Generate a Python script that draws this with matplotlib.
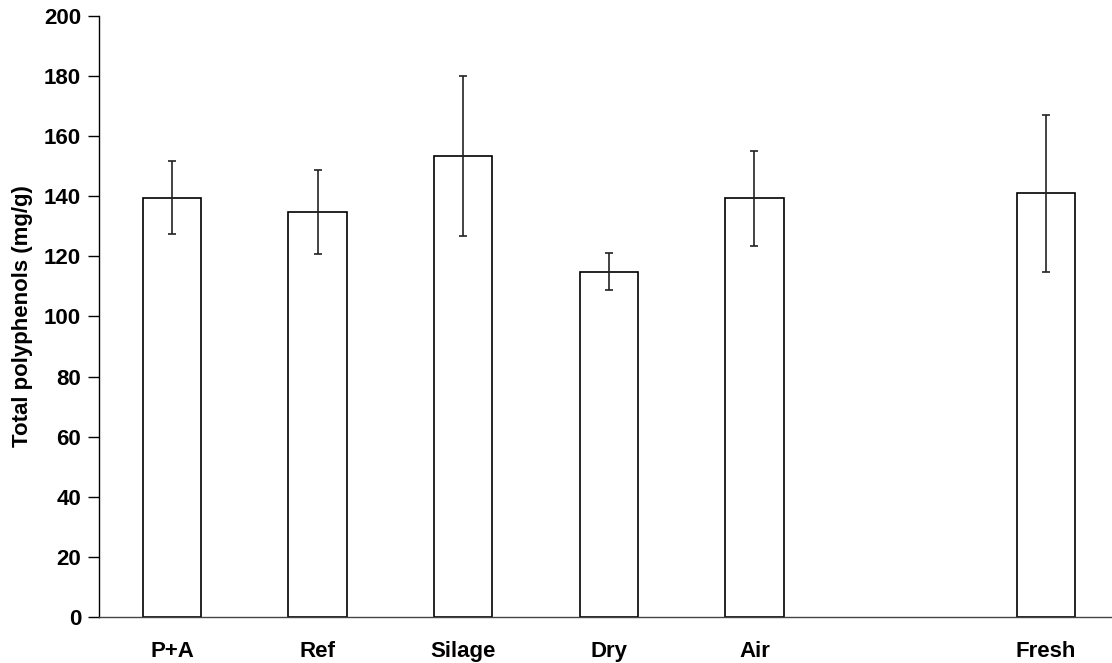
import matplotlib
matplotlib.use("Agg")
import matplotlib.pyplot as plt

plt.rcParams['font.family'] = ['Liberation Sans', 'DejaVu Sans']
plt.rcParams['font.weight'] = 'bold'

# data
positions = [0, 1, 2, 3, 4, 6]   # slot 5 is left empty
labels = ['P+A', 'Ref', 'Silage', 'Dry', 'Air', 'Fresh']
means = [139.5, 134.7, 153.4, 114.9, 139.3, 141.0]
errors = [12.2, 14.0, 26.6, 6.1, 15.9, 26.1]

fig = plt.figure(figsize=(11.12, 6.63), dpi=100)
ax = fig.add_axes([0.0892, 0.0694, 0.9166, 0.9065])

ax.bar(positions, means, width=0.4, color='white', edgecolor='black',
       linewidth=1.2, zorder=2)
ax.errorbar(positions, means, yerr=errors, fmt='none', ecolor='#222222',
            elinewidth=1.2, capsize=3.2, capthick=1.2, zorder=3)

ax.set_xlim(-0.5, 6.5)
ax.set_ylim(0, 200)
ax.set_yticks(range(0, 201, 20))
ax.set_xticks(positions)
ax.set_xticklabels(labels, fontsize=16, fontweight='bold')
ax.tick_params(axis='x', length=0, pad=17)
ax.tick_params(axis='y', direction='out', length=8, width=1, labelsize=16, pad=5)
for t in ax.get_yticklabels():
    t.set_fontweight('bold')

ax.spines['top'].set_visible(False)
ax.spines['right'].set_visible(False)
ax.spines['left'].set_linewidth(1)
ax.spines['bottom'].set_linewidth(1)
ax.spines['bottom'].set_color('#444444')

ax.set_ylabel('Total polyphenols (mg/g)', fontsize=16, fontweight='bold', labelpad=8)

fig.savefig('out.png', dpi=100)
